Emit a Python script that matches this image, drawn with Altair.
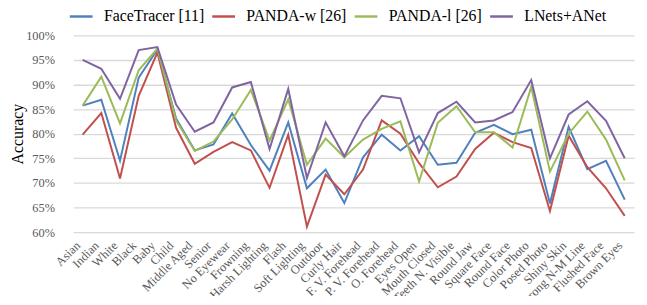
import altair as alt
import pandas as pd

attributes = ["Asian", "Indian", "White", "Black", "Baby", "Child", "Middle Aged", "Senior",
              "No Eyewear", "Frowning", "Harsh Lighting", "Flash", "Soft Lighting", "Outdoor",
              "Curly Hair", "F. V. Forehead", "P. V. Forehead", "O. Forehead", "Eyes Open",
              "Mouth Closed", "Teeth N. Visible", "Round Jaw", "Square Face", "Round Face",
              "Color Photo", "Posed Photo", "Shiny Skin", "Strong N-M Line", "Flushed Face",
              "Brown Eyes"]

series_names = ["FaceTracer [11]", "PANDA-w [26]", "PANDA-l [26]", "LNets+ANet"]
series_colors = ["#4F81BD", "#C0504D", "#9BBB59", "#8064A2"]

facetracer = [85.7, 86.9, 74.5, 91.4, 97.1, 83.1, 76.6, 77.8, 84.1, 77.7, 72.5, 82.3, 68.9, 72.7,
              65.9, 75.2, 79.8, 76.6, 79.5, 73.7, 74.1, 80.2, 81.8, 79.9, 80.8, 65.8, 81.4, 72.8,
              74.5, 66.6]
panda_w = [79.8, 84.2, 70.9, 87.7, 96.5, 81.2, 73.9, 76.3, 78.3, 76.6, 69.0, 79.8, 61.1, 71.7,
           67.7, 72.7, 82.7, 80.0, 74.0, 69.1, 71.3, 76.9, 80.2, 78.3, 77.1, 64.3, 79.6, 73.2,
           68.9, 63.3]
panda_l = [85.7, 91.6, 82.1, 92.9, 97.3, 82.7, 76.5, 78.4, 82.9, 88.9, 78.6, 87.0, 73.7, 79.0,
           75.2, 78.8, 81.0, 82.5, 70.3, 82.2, 85.6, 80.3, 80.3, 77.2, 89.5, 72.3, 80.0, 84.5,
           78.8, 70.5]
lnets = [95.0, 93.2, 87.1, 97.0, 97.6, 85.9, 80.4, 82.3, 89.4, 90.5, 76.9, 89.1, 71.0, 82.3,
         75.4, 82.7, 87.7, 87.2, 76.2, 84.2, 86.5, 82.3, 82.7, 84.4, 90.9, 75.0, 83.9, 86.6,
         82.6, 75.0]

y_ticks = [60, 65, 70, 75, 80, 85, 90, 95, 100]

rows = []
for name, vals in zip(series_names, [facetracer, panda_w, panda_l, lnets]):
    for i, (a, v) in enumerate(zip(attributes, vals)):
        rows.append({"attribute": a, "series": name, "accuracy": v, "order": i})
df = pd.DataFrame(rows)

font = "Liberation Serif"

chart = alt.Chart(df).mark_line(strokeWidth=2).encode(
    x=alt.X("attribute:N", sort=attributes,
            scale=alt.Scale(type="point", range=[10, 577]),
            axis=alt.Axis(title=None, labelAngle=-45, labelAlign="right",
                          labelBaseline="bottom", domain=False, ticks=False, grid=False,
                          labelFont=font, labelFontSize=12.5, labelColor="#595959",
                          labelPadding=16, labelOverlap=False)),
    y=alt.Y("accuracy:Q", scale=alt.Scale(domain=[60, 100], nice=False, zero=False),
            axis=alt.Axis(title="Accuracy", values=y_ticks, labelExpr="datum.value + '%'",
                          domain=False, ticks=False, grid=True, gridColor="#d9d9d9",
                          gridWidth=1.3, labelFont=font, labelFontSize=12.5,
                          labelColor="#595959", labelPadding=9, titleFont=font,
                          titleFontSize=16, titleFontWeight="normal", titleColor="#000000",
                          titleX=-46, titleY=99.5, titleAngle=270, titleAlign="center",
                          titleBaseline="middle")),
    color=alt.Color("series:N", sort=series_names,
                    scale=alt.Scale(domain=series_names, range=series_colors),
                    legend=alt.Legend(title=None, orient="none", direction="horizontal",
                                      legendX=5, legendY=-32, symbolType="stroke",
                                      symbolSize=529, symbolStrokeWidth=2.5,
                                      labelFont=font, labelFontSize=16, labelColor="#000000",
                                      labelOffset=10, columnPadding=2, padding=0)),
    order="order:Q",
).properties(
    width=582, height=199,
    autosize=alt.AutoSizeParams(type="none"),
    padding={"left": 56, "top": 26, "right": 0, "bottom": 63},
).configure_view(stroke=None)

chart.save("out.html", embed_options={"renderer": "svg", "actions": False})
